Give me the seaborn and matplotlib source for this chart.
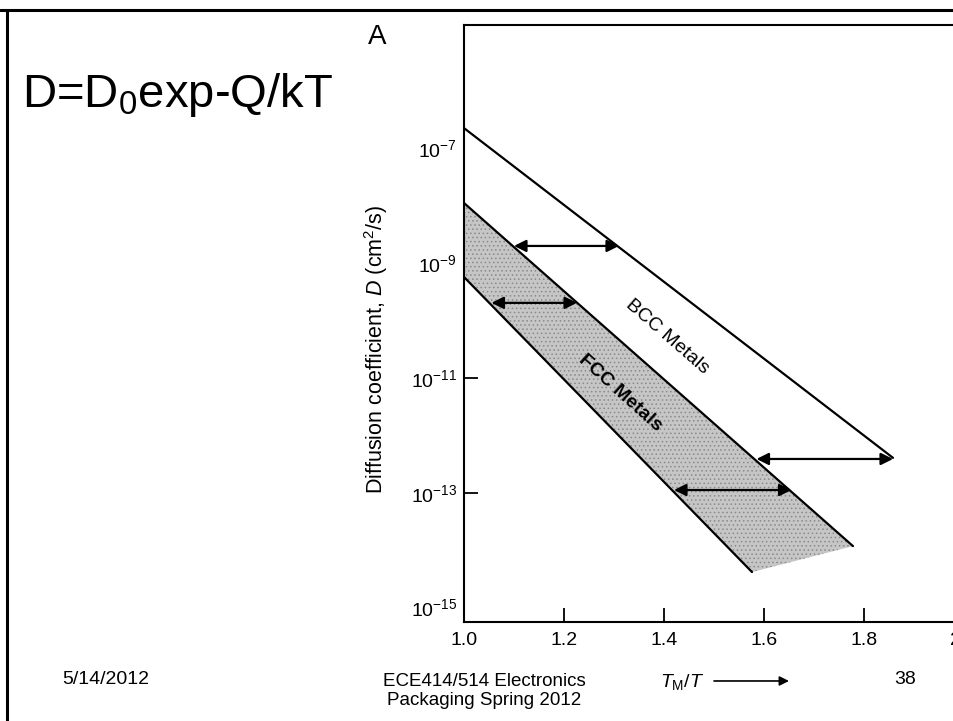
import matplotlib
matplotlib.use("Agg")
import matplotlib.pyplot as plt
import numpy as np
import pandas as pd
import seaborn as sns
from matplotlib.lines import Line2D
from matplotlib.ticker import NullLocator

# Diffusion coefficient vs. homologous temperature (T_M/T)
tm_ratio_bcc = [1.0, 1.858]
d_bcc = [2.26e-7, 4.07e-13]

tm_ratio_fcc_upper = [1.0, 1.778]
d_fcc_upper = [1.12e-8, 1.18e-14]

tm_ratio_fcc_lower = [1.0, 1.576]
d_fcc_lower = [5.75e-10, 4.17e-15]

# double-headed arrows showing the spread between the boundaries
arrow_d = [2.0e-9, 2.04e-10, 3.89e-13, 1.12e-13]
arrow_x_from = [1.10, 1.055, 1.585, 1.42]
arrow_x_to = [1.31, 1.226, 1.858, 1.655]

x_ticks = [1.0, 1.2, 1.4, 1.6, 1.8, 2.0]
x_tick_labels = ["1.0", "1.2", "1.4", "1.6", "1.8", "2.0"]
y_ticks = [1e-7, 1e-9, 1e-11, 1e-13, 1e-15]
y_tick_labels = [r"$10^{-7}$", r"$10^{-9}$", r"$10^{-11}$", r"$10^{-13}$", r"$10^{-15}$"]

sns.set_theme(style="white")
plt.rcParams["font.family"] = ["Liberation Sans", "DejaVu Sans"]
plt.rcParams["mathtext.fontset"] = "custom"
plt.rcParams["mathtext.rm"] = "Liberation Sans"
plt.rcParams["mathtext.it"] = "Liberation Sans:italic"
plt.rcParams["mathtext.bf"] = "Liberation Sans:bold"
plt.rcParams["hatch.linewidth"] = 0.6

W, H = 954, 721
fig = plt.figure(figsize=(W / 100, H / 100), dpi=100)
fig.patch.set_facecolor("white")
ax = fig.add_axes([464 / W, (H - 622) / H, 500 / W, 597 / H])
ax.set_facecolor("white")

lines = pd.concat([
    pd.DataFrame({"tm_ratio": tm_ratio_bcc, "D": d_bcc, "boundary": "BCC"}),
    pd.DataFrame({"tm_ratio": tm_ratio_fcc_upper, "D": d_fcc_upper, "boundary": "FCC upper"}),
    pd.DataFrame({"tm_ratio": tm_ratio_fcc_lower, "D": d_fcc_lower, "boundary": "FCC lower"}),
], ignore_index=True)

ax.set_yscale("log")

# shaded FCC band
band_x = tm_ratio_fcc_upper + tm_ratio_fcc_lower[::-1]
band_d = d_fcc_upper + d_fcc_lower[::-1]
ax.fill(band_x, band_d, facecolor="#c6c6c6", edgecolor="#8a8a8a",
        hatch="....", linewidth=0, zorder=1)

sns.lineplot(data=lines, x="tm_ratio", y="D", units="boundary", estimator=None,
             sort=False, color="black", linewidth=1.6, legend=False, ax=ax, zorder=3)

for d, x0, x1 in zip(arrow_d, arrow_x_from, arrow_x_to):
    ax.annotate("", xy=(x1, d), xytext=(x0, d),
                arrowprops=dict(arrowstyle="<|-|>", color="black", lw=1.6,
                                mutation_scale=18, shrinkA=0, shrinkB=0),
                zorder=4)

ax.text(1.406, 5.18e-11, "BCC Metals", rotation=-41, ha="center", va="center",
        fontsize=14, rotation_mode="anchor", color="black")
ax.text(1.312, 5.5e-12, "FCC Metals", rotation=-42, ha="center", va="center",
        fontsize=14, fontweight="bold", rotation_mode="anchor", color="black")

ax.set_xlim(1.0, 2.0)
ax.set_ylim(10 ** -15.25, 10 ** -4.85)
ax.set_xticks(x_ticks)
ax.set_xticklabels(x_tick_labels)
ax.set_yticks(y_ticks)
ax.set_yticklabels(y_tick_labels)
ax.yaxis.set_minor_locator(NullLocator())
ax.xaxis.set_minor_locator(NullLocator())
ax.tick_params(axis="both", direction="in", length=10, width=1.3, colors="black",
               labelsize=14, bottom=True, left=True, top=False, right=False)
ax.tick_params(axis="x", pad=7)
ax.tick_params(axis="y", pad=5)
for tick, val in zip(ax.yaxis.get_major_ticks(), y_ticks):
    if val in (1e-7, 1e-9, 1e-15):
        tick.tick1line.set_visible(False)

for spine in ax.spines.values():
    spine.set_color("black")
    spine.set_linewidth(1.5)

ax.set_ylabel(r"Diffusion coefficient, $D$ (cm$^2$/s)", fontsize=15.5, color="black")
ax.yaxis.set_label_coords(-0.148, 0.456)
ax.set_xlabel(r"$T_{\mathrm{M}}/T$", fontsize=14, color="black")
ax.xaxis.set_label_coords(0.436, -0.0838)
ax.annotate("", xy=(0.65, -0.0988), xytext=(0.50, -0.0988),
            xycoords="axes fraction", textcoords="axes fraction",
            arrowprops=dict(arrowstyle="-|>", color="black", lw=1.2,
                            mutation_scale=14, shrinkA=0, shrinkB=0),
            annotation_clip=False)

# slide decorations
fig.text(22 / W, 1 - 107 / H, "D=D$_0$exp-Q/kT", fontsize=34, ha="left",
         va="baseline", color="black")
fig.text(377 / W, 1 - 37 / H, "A", fontsize=20, ha="center", va="center", color="black")
fig.text(106 / W, 1 - 680 / H, "5/14/2012", fontsize=14, ha="center", va="center",
         color="black")
fig.text(484 / W, 1 - 691 / H, "ECE414/514 Electronics\nPackaging Spring 2012",
         fontsize=13.5, ha="center", va="center", linespacing=1.15, color="black")
fig.text(905 / W, 1 - 680 / H, "38", fontsize=14, ha="center", va="center", color="black")

fig.add_artist(Line2D([0, 1], [1 - 9.5 / H, 1 - 9.5 / H], transform=fig.transFigure,
                      color="black", lw=2.2))
fig.add_artist(Line2D([7.5 / W, 7.5 / W], [0, 1 - 9.5 / H], transform=fig.transFigure,
                      color="black", lw=2.2))

fig.savefig("out.png", dpi=100, facecolor="white")
